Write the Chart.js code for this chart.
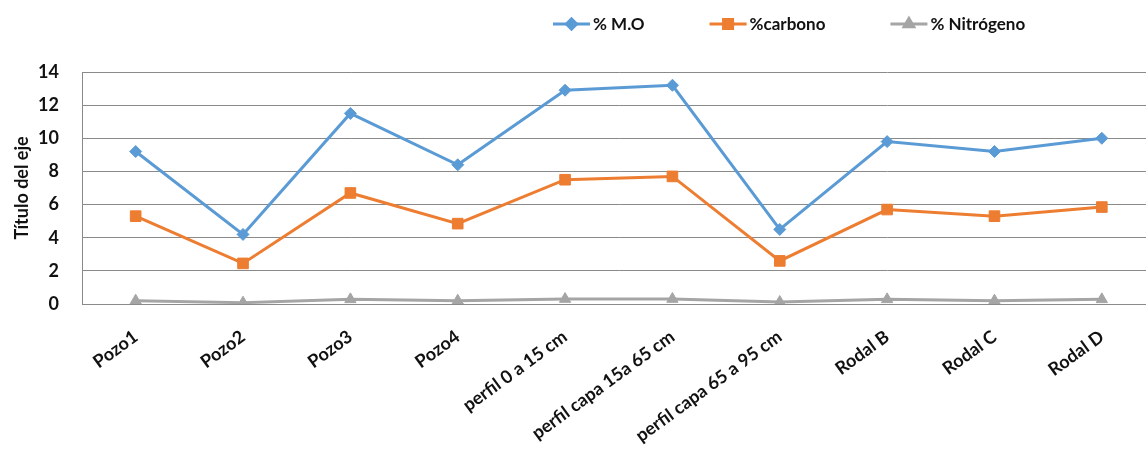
<!DOCTYPE html>
<html>
<head>
<meta charset="utf-8">
<script src="https://cdn.jsdelivr.net/npm/chart.js@4/dist/chart.umd.min.js"></script>
<style>
  html, body { margin: 0; padding: 0; background: #fff; overflow: hidden; }
  #wrap { width: 1164px; height: 456px; position: relative; }
</style>
</head>
<body>
<div id="wrap"><canvas id="c"></canvas></div>
<script>
// Sample sites
const categories = ['Pozo1', 'Pozo2', 'Pozo3', 'Pozo4', 'perfil 0 a 15 cm', 'perfil capa 15a 65 cm',
  'perfil capa 65 a 95 cm', 'Rodal B', 'Rodal C', 'Rodal D'];

// Percentages per site
const materiaOrganica = [9.2, 4.2, 11.5, 8.4, 12.9, 13.2, 4.5, 9.8, 9.2, 10.0];
const carbono = [5.3, 2.45, 6.7, 4.85, 7.5, 7.7, 2.6, 5.7, 5.3, 5.85];
const nitrogeno = [0.2, 0.08, 0.28, 0.2, 0.3, 0.3, 0.12, 0.28, 0.2, 0.28];

const seriesNames = ['% M.O', '%carbono', '% Nitrógeno'];
const yTicks = [0, 2, 4, 6, 8, 10, 12, 14];
const yTitle = 'Título del eje';

const BLUE = '#5B9BD5', ORANGE = '#ED7D31', GRAY = '#A5A5A5';
const FONT = 'Lato, "Open Sans", sans-serif';

// Excel-style legend: a short line with the marker in the middle, then the label
const lineLegend = {
  id: 'lineLegend',
  afterDraw(chart, args, opts) {
    const ctx = chart.ctx;
    ctx.save();
    ctx.font = `bold ${opts.fontSize}px ${FONT}`;
    ctx.textBaseline = 'middle';
    let x = opts.x;
    const y = opts.y;
    chart.data.datasets.forEach(ds => {
      ctx.strokeStyle = ds.borderColor;
      ctx.lineWidth = 3;
      ctx.beginPath();
      ctx.moveTo(x, y);
      ctx.lineTo(x + opts.lineLen, y);
      ctx.stroke();
      ctx.fillStyle = ds.backgroundColor;
      ctx.strokeStyle = ds.borderColor;
      Chart.helpers.drawPoint(ctx, {
        pointStyle: ds.pointStyle, radius: ds.pointRadius * 0.85, borderWidth: 1, rotation: 0
      }, x + opts.lineLen / 2, y);
      x += opts.lineLen + 3;
      ctx.fillStyle = '#111';
      ctx.fillText(ds.label, x, y + 1);
      x += ctx.measureText(ds.label).width + opts.gap;
    });
    ctx.restore();
  }
};

new Chart(document.getElementById('c'), {
  type: 'line',
  data: {
    labels: categories,
    datasets: [
      { label: seriesNames[0], data: materiaOrganica, borderColor: BLUE, backgroundColor: BLUE,
        pointStyle: 'rectRot', pointRadius: 6, borderWidth: 3, pointBorderWidth: 1 },
      { label: seriesNames[1], data: carbono, borderColor: ORANGE, backgroundColor: ORANGE,
        pointStyle: 'rect', pointRadius: 7.5, borderWidth: 3, pointBorderWidth: 1 },
      { label: seriesNames[2], data: nitrogeno, borderColor: GRAY, backgroundColor: GRAY,
        pointStyle: 'triangle', pointRadius: 6.5, borderWidth: 3, pointBorderWidth: 1 }
    ]
  },
  options: {
    responsive: true,
    maintainAspectRatio: false,
    animation: false,
    events: [],
    layout: { padding: { top: 72, right: 2, left: 0, bottom: 0 } },
    elements: { line: { tension: 0 } },
    plugins: {
      legend: { display: false },
      tooltip: { enabled: false },
      lineLegend: { x: 553, y: 24, lineLen: 37, gap: 65, fontSize: 17 }
    },
    scales: {
      x: {
        offset: true,
        grid: { display: false, drawTicks: false },
        border: { display: true, color: '#8a8a8a', width: 1 },
        ticks: {
          autoSkip: false, minRotation: 36, maxRotation: 36, padding: 22,
          color: '#111', font: { family: FONT, size: 18, weight: 'bold' }
        },
        afterFit(scale) { scale.height = 152; }
      },
      y: {
        min: 0, max: 14,
        afterBuildTicks(scale) { scale.ticks = yTicks.map(v => ({ value: v })); },
        grid: { color: '#8a8a8a', lineWidth: 1, drawTicks: false },
        border: { display: true, color: '#8a8a8a', width: 1 },
        ticks: { padding: 23, color: '#111', font: { family: FONT, size: 18, weight: 'bold' } },
        title: {
          display: true, text: yTitle, color: '#111', padding: { top: 11, bottom: 0 },
          font: { family: FONT, size: 18, weight: 'bold' }
        },
        afterFit(scale) { scale.width = 82; }
      }
    }
  },
  plugins: [lineLegend]
});
</script>
</body>
</html>
